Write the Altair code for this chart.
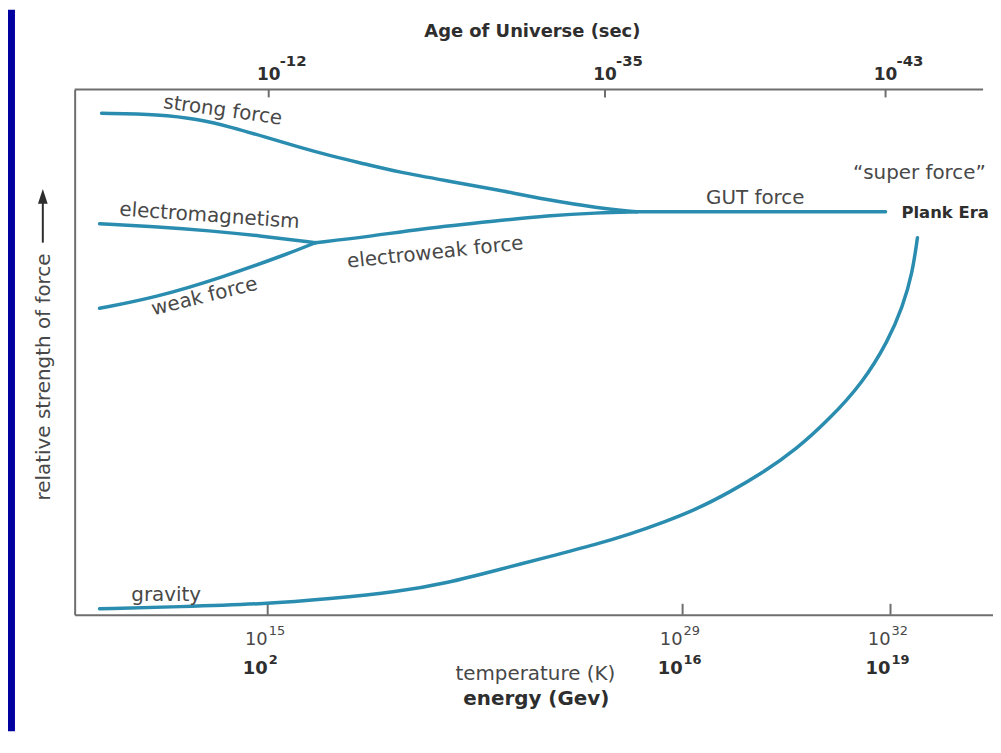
import altair as alt
import pandas as pd

# ---- data (x: position along the cosmic timeline 0-100, y: relative strength 0-100) ----
strong_x = [2.93, 9.21, 13.54, 17.12, 20.80, 24.38, 27.95, 31.64, 35.21, 40.63, 46.05, 51.46, 56.88, 61.21]
strong_y = [95.45, 95.27, 94.32, 92.80, 90.91, 89.02, 87.31, 85.80, 84.28, 82.58, 80.87, 78.98, 77.46, 76.70]

em_x = [2.71, 9.21, 14.63, 20.04, 26.22]
em_y = [74.43, 73.86, 73.11, 72.16, 70.83]

weak_x = [2.71, 8.88, 16.03, 23.29, 26.22]
weak_y = [58.33, 60.42, 64.20, 68.75, 70.83]

ew_x = [26.22, 31.96, 37.70, 46.05, 51.46, 56.88, 61.21]
ew_y = [70.83, 71.97, 73.48, 75.00, 75.95, 76.52, 76.70]

gut_x = [61.21, 88.30]
gut_y = [76.70, 76.70]

gravity_x = [2.71, 11.38, 21.02, 27.63, 35.21, 40.63, 46.05, 51.46, 56.88, 60.46, 64.14,
             67.71, 71.29, 74.97, 78.55, 82.12, 85.81, 88.62, 90.14, 91.22, 91.77]
gravity_y = [1.14, 1.52, 2.08, 3.03, 4.36, 6.06, 8.52, 10.98, 13.45, 15.34, 17.61,
             20.08, 23.30, 27.08, 31.44, 37.12, 44.13, 52.27, 58.52, 64.96, 71.78]

label_text = ["strong force", "electromagnetism", "weak force", "electroweak force",
              "GUT force", "\u201csuper force\u201d", "gravity"]
label_x = [16.03, 14.63, 14.30, 39.33, 74.11, 91.98, 9.97]
label_y = [94.89, 74.81, 59.47, 67.80, 78.22, 82.95, 2.65]
label_angle = [8, 4, 346, 354, 0, 0, 0]

era_text = ["Plank Era"]
era_x = [90.03]
era_y = [75.57]

bottom_tick_pos = [21.02, 66.20, 88.84]
temp_exp = ["15", "29", "32"]
energy_exp = ["2", "16", "19"]
top_tick_pos = [21.13, 57.75, 88.30]
age_exp = ["-12", "-35", "-43"]

# ---- tables ----
rows = []
for name, xs_, ys_ in [("strong", strong_x, strong_y), ("em", em_x, em_y),
                       ("weak", weak_x, weak_y), ("electroweak", ew_x, ew_y),
                       ("gut", gut_x, gut_y), ("gravity", gravity_x, gravity_y)]:
    for i, (a, b) in enumerate(zip(xs_, ys_)):
        rows.append({"force": name, "x": a, "y": b, "i": i})
lines_df = pd.DataFrame(rows)
labels_df = pd.DataFrame({"text": label_text, "x": label_x, "y": label_y, "angle": label_angle})
era_df = pd.DataFrame({"text": era_text, "x": era_x, "y": era_y})
bottom_df = pd.DataFrame({"x": bottom_tick_pos, "t": temp_exp, "e": energy_exp})
top_df = pd.DataFrame({"x": top_tick_pos, "a": age_exp})
frame_df = pd.DataFrame({"x0": [0.0], "x1": [98.92], "y": [100.0]})
one = pd.DataFrame({"k": [0]})

LINE = "#2a8db0"
AXIS = "#6e6e6e"
TXT = "#484848"
DARK = "#2e2e2e"
FONT = "DejaVu Sans"

xs = alt.Scale(domain=[0, 100], nice=False, zero=False)
ys = alt.Scale(domain=[0, 100], nice=False, zero=False)
ax_x = alt.Axis(domain=True, domainColor=AXIS, domainWidth=2, ticks=False, labels=False,
                grid=False, title="", orient="bottom")
ax_y = alt.Axis(domain=True, domainColor=AXIS, domainWidth=2, ticks=False, labels=False,
                grid=False, title="", orient="left")

def X(f="x"):
    return alt.X(f"{f}:Q", scale=xs, axis=ax_x)

def Y(f="y"):
    return alt.Y(f"{f}:Q", scale=ys, axis=ax_y)

# blue left border of the slide
border = alt.Chart(one).mark_rect(color="#0000a0").encode(
    x=alt.value(-67), x2=alt.value(-60), y=alt.value(-80), y2=alt.value(645))

top_line = alt.Chart(frame_df).mark_rule(color=AXIS, strokeWidth=2).encode(
    x=X("x0"), x2="x1:Q", y=Y("y"))

bottom_ticks = alt.Chart(bottom_df).mark_rule(color=AXIS, strokeWidth=2).encode(
    x=X(), y=alt.value(528), y2=alt.value(517))
top_ticks = alt.Chart(top_df).mark_rule(color=AXIS, strokeWidth=2).encode(
    x=X(), y=alt.value(0), y2=alt.value(8))

curves = alt.Chart(lines_df).mark_line(
    color=LINE, strokeWidth=3.5, interpolate="basis", strokeCap="round"
).encode(x=X(), y=Y(), detail="force:N", order="i:Q")

curve_labels = alt.Chart(labels_df).mark_text(
    font=FONT, fontSize=20, color=TXT, align="center", baseline="alphabetic"
).encode(x=X(), y=Y(), text="text:N", angle=alt.Angle("angle:Q", scale=None))

era = alt.Chart(era_df).mark_text(
    font=FONT, fontSize=16.5, fontWeight="bold", color=DARK, align="left", baseline="alphabetic"
).encode(x=X(), y=Y(), text="text:N")

temp_base = alt.Chart(bottom_df).mark_text(
    text="10", font=FONT, fontSize=18, color=TXT, align="right", baseline="alphabetic"
).encode(x=X(), y=alt.value(558))
temp_sup = alt.Chart(bottom_df).mark_text(
    font=FONT, fontSize=13, color=TXT, align="left", baseline="alphabetic", dx=1
).encode(x=X(), y=alt.value(548), text="t:N")
en_base = alt.Chart(bottom_df).mark_text(
    text="10", font=FONT, fontSize=18, fontWeight="bold", color=DARK, align="right",
    baseline="alphabetic"
).encode(x=X(), y=alt.value(588))
en_sup = alt.Chart(bottom_df).mark_text(
    font=FONT, fontSize=13, fontWeight="bold", color=DARK, align="left",
    baseline="alphabetic", dx=1
).encode(x=X(), y=alt.value(577), text="e:N")
age_base = alt.Chart(top_df).mark_text(
    text="10", font=FONT, fontSize=17, fontWeight="bold", color=DARK, align="center",
    baseline="alphabetic"
).encode(x=X(), y=alt.value(-9))
age_sup = alt.Chart(top_df).mark_text(
    font=FONT, fontSize=15, fontWeight="bold", color=DARK, align="left",
    baseline="alphabetic", dx=11
).encode(x=X(), y=alt.value(-24), text="a:N")

title_top = alt.Chart(one).mark_text(
    text="Age of Universe (sec)", font=FONT, fontSize=18, fontWeight="bold", color=DARK,
    align="center", baseline="alphabetic"
).encode(x=alt.value(460), y=alt.value(-53))
title_temp = alt.Chart(one).mark_text(
    text="temperature (K)", font=FONT, fontSize=20, color=TXT,
    align="center", baseline="alphabetic"
).encode(x=alt.value(463), y=alt.value(594))
title_energy = alt.Chart(one).mark_text(
    text="energy (Gev)", font=FONT, fontSize=20, fontWeight="bold", color=DARK,
    align="center", baseline="alphabetic"
).encode(x=alt.value(464), y=alt.value(619))
title_left = alt.Chart(one).mark_text(
    text="relative strength of force", font=FONT, fontSize=20, color=TXT,
    align="center", baseline="alphabetic", angle=270
).encode(x=alt.value(-25), y=alt.value(289))
arrow_line = alt.Chart(one).mark_rule(color=DARK, strokeWidth=2).encode(
    x=alt.value(-32), y=alt.value(154), y2=alt.value(112))
arrow_head = alt.Chart(one).mark_point(
    shape="M0,-1L0.65,1L-0.65,1Z", filled=True, color=DARK, size=225, opacity=1
).encode(x=alt.value(-32), y=alt.value(107.5))

chart = alt.layer(
    border, top_line, bottom_ticks, top_ticks, curves, curve_labels, era,
    temp_base, temp_sup, en_base, en_sup, age_base, age_sup,
    title_top, title_temp, title_energy, title_left, arrow_line, arrow_head
).properties(
    width=923, height=528,
    padding={"left": 67, "top": 80, "right": 0, "bottom": 117},
    autosize=alt.AutoSizeParams(type="none"),
    background="white",
).configure_view(stroke=None)

chart.save("out.html", embed_options={"renderer": "svg", "actions": False})
